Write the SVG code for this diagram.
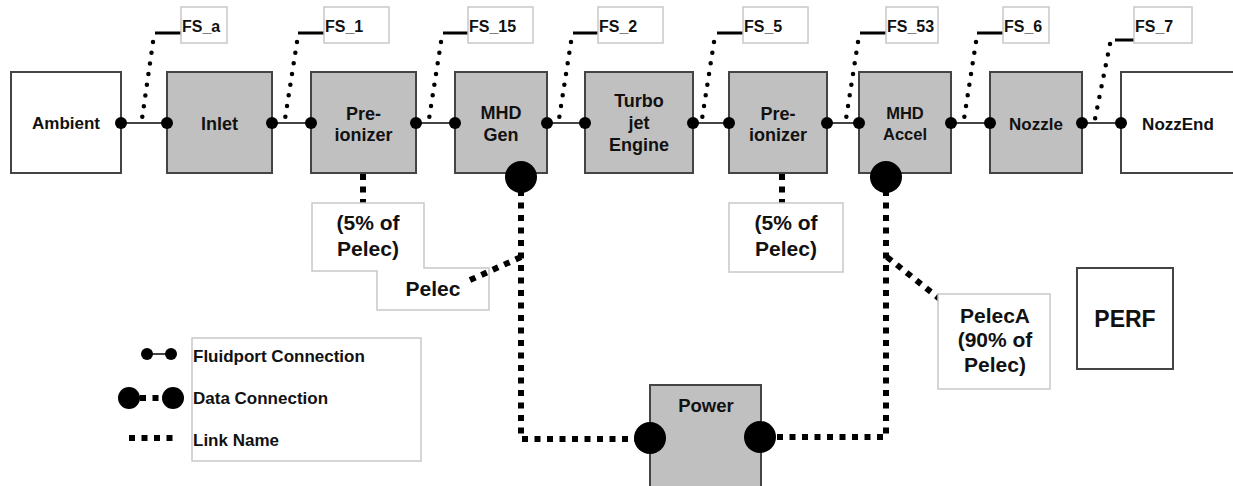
<svg xmlns="http://www.w3.org/2000/svg" width="1233" height="486" viewBox="0 0 1233 486">
<style>
text{font-family:"Liberation Sans",Arial,sans-serif;font-weight:bold;fill:#111}
.blk{stroke:#444;stroke-width:2}
.g{fill:#c0c0c0}
.w{fill:#fff}
.lbl{fill:#fff;stroke:#c8c8c8;stroke-width:1.5}
.fl{stroke:#444;stroke-width:2;fill:none}
.dot{stroke:#000;stroke-width:4.5;stroke-linecap:round;stroke-dasharray:0 10.8;fill:none}
.ld{stroke:#000;stroke-width:3;fill:none}
.dash{stroke:#000;stroke-width:6;stroke-dasharray:6 6.5;fill:none}
.c{text-anchor:middle}
.m{font-size:18px}
.fs{font-size:16px}
.lk{font-size:21px}
.lg{font-size:17px}
</style>
<defs>
<circle id="fp" r="6" fill="#000"/>
<circle id="dp" r="16" fill="#000"/>
</defs>

<g id="connectors">
<path class="fl" d="M121 123H167M272 123H311M416 123H455M547 123H585M693 123H729M827 123H859M951 123H990M1082 123H1121"/>
<path class="dot" d="M153 42L142 119M297 42L285 119M441 42L429 119M571 42L559 119M714 42L702 119M858 42L846 119M976 42L964 119M1110 44L1095 119"/>
<path class="ld" d="M155 33H181M298 33H324M443 33H468M573 33H598M717 33H743M860 33H886M977 33H1003M1115 40H1137"/>
<path class="dash" d="M363 174V203M782 174V203"/>
<path class="dash" d="M521 190V439H650M886 190V437H760"/>
<path class="dash" d="M887 257L950 307"/>
</g>

<g id="Ambient"><rect class="blk w" x="11" y="72" width="110" height="101"/><text class="c" style="font-size:17px" x="66" y="129">Ambient</text></g>
<g id="Inlet"><rect class="blk g" x="167" y="72" width="105" height="101"/><text class="c m" x="219.5" y="130">Inlet</text></g>
<g id="Preionizer1"><rect class="blk g" x="311" y="72" width="105" height="101"/><text class="c m" x="363.5" y="120">Pre-</text><text class="c m" x="363.5" y="141">ionizer</text></g>
<g id="MHDGen"><rect class="blk g" x="455" y="72" width="92" height="101"/><text class="c m" x="501" y="119">MHD</text><text class="c m" x="501" y="141">Gen</text></g>
<g id="Turbojet"><rect class="blk g" x="585" y="72" width="108" height="101"/><text class="c m" x="639" y="107">Turbo</text><text class="c m" x="639" y="129">jet</text><text class="c m" x="639" y="151">Engine</text></g>
<g id="Preionizer2"><rect class="blk g" x="729" y="72" width="98" height="101"/><text class="c m" x="778" y="120">Pre-</text><text class="c m" x="778" y="141">ionizer</text></g>
<g id="MHDAccel"><rect class="blk g" x="859" y="72" width="92" height="101"/><text class="c" style="font-size:16.5px" x="905" y="119">MHD</text><text class="c" style="font-size:16.5px" x="905" y="140">Accel</text></g>
<g id="Nozzle"><rect class="blk g" x="990" y="72" width="92" height="101"/><text class="c" style="font-size:17px" x="1036" y="130">Nozzle</text></g>
<g id="NozzEnd"><rect class="blk w" x="1121" y="72" width="130" height="101"/><text class="c" style="font-size:17px" x="1178" y="130">NozzEnd</text></g>

<g id="ports">
<use href="#fp" x="121" y="123"/><use href="#fp" x="167" y="123"/>
<use href="#fp" x="272" y="123"/><use href="#fp" x="311" y="123"/>
<use href="#fp" x="416" y="123"/><use href="#fp" x="455" y="123"/>
<use href="#fp" x="547" y="123"/><use href="#fp" x="585" y="123"/>
<use href="#fp" x="693" y="123"/><use href="#fp" x="729" y="123"/>
<use href="#fp" x="827" y="123"/><use href="#fp" x="859" y="123"/>
<use href="#fp" x="951" y="123"/><use href="#fp" x="990" y="123"/>
<use href="#fp" x="1082" y="123"/><use href="#fp" x="1121" y="123"/>
<use href="#dp" x="521" y="177"/><use href="#dp" x="886" y="177"/>
</g>

<g id="FS_labels">
<rect class="lbl" x="181" y="7" width="46" height="36"/><text class="fs" x="182" y="32">FS_a</text>
<rect class="lbl" x="324" y="7" width="65" height="36"/><text class="fs" x="325" y="32">FS_1</text>
<rect class="lbl" x="468" y="7" width="65" height="36"/><text class="fs" x="469" y="32">FS_15</text>
<rect class="lbl" x="598" y="7" width="65" height="36"/><text class="fs" x="599" y="32">FS_2</text>
<rect class="lbl" x="743" y="7" width="65" height="36"/><text class="fs" x="744" y="32">FS_5</text>
<rect class="lbl" x="886" y="7" width="52" height="36"/><text class="fs" x="887" y="32">FS_53</text>
<rect class="lbl" x="1003" y="7" width="46" height="36"/><text class="fs" x="1004" y="32">FS_6</text>
<rect class="lbl" x="1134" y="7" width="58" height="36"/><text class="fs" x="1135" y="32">FS_7</text>
</g>

<g id="Pelec_labels">
<path class="lbl" d="M312 203H424V268H489V310H377V271H312Z"/>
<text class="c lk" x="368" y="230">(5% of</text><text class="c lk" x="368" y="256">Pelec)</text>
<text class="c lk" x="433" y="296">Pelec</text>
<path class="dash" d="M521 257L468 281"/>
</g>
<g id="Pelec2_label">
<rect class="lbl" x="729" y="203" width="114" height="69"/>
<text class="c lk" x="786" y="230">(5% of</text><text class="c lk" x="786" y="256">Pelec)</text>
</g>
<g id="PelecA_label">
<rect class="lbl" x="938" y="294" width="112" height="95"/>
<text class="c lk" x="995" y="323">PelecA</text><text class="c lk" x="995" y="347">(90% of</text><text class="c lk" x="995" y="372">Pelec)</text>
</g>

<g id="PERF"><rect class="blk w" x="1077" y="268" width="96" height="101"/><text class="c" style="font-size:23px" x="1125" y="327">PERF</text></g>

<g id="Power"><rect class="blk g" x="650" y="385" width="111" height="110"/><text class="c" style="font-size:18.5px" x="706" y="412">Power</text>
<use href="#dp" x="650" y="438"/><use href="#dp" x="760" y="437"/></g>

<g id="Legend">
<rect class="lbl" x="192" y="338" width="229" height="123"/>
<line class="fl" x1="147" y1="354" x2="171" y2="354"/><use href="#fp" x="147" y="354"/><use href="#fp" x="171" y="354"/>
<text class="lg" x="193" y="362">Fluidport Connection</text>
<line class="dash" x1="140" y1="398" x2="162" y2="398"/><circle cx="129" cy="398" r="11"/><circle cx="173" cy="398" r="11"/>
<text class="lg" x="193" y="404">Data Connection</text>
<line class="dash" x1="129" y1="438" x2="174" y2="438"/>
<text class="lg" x="193" y="446">Link Name</text>
</g>
</svg>
